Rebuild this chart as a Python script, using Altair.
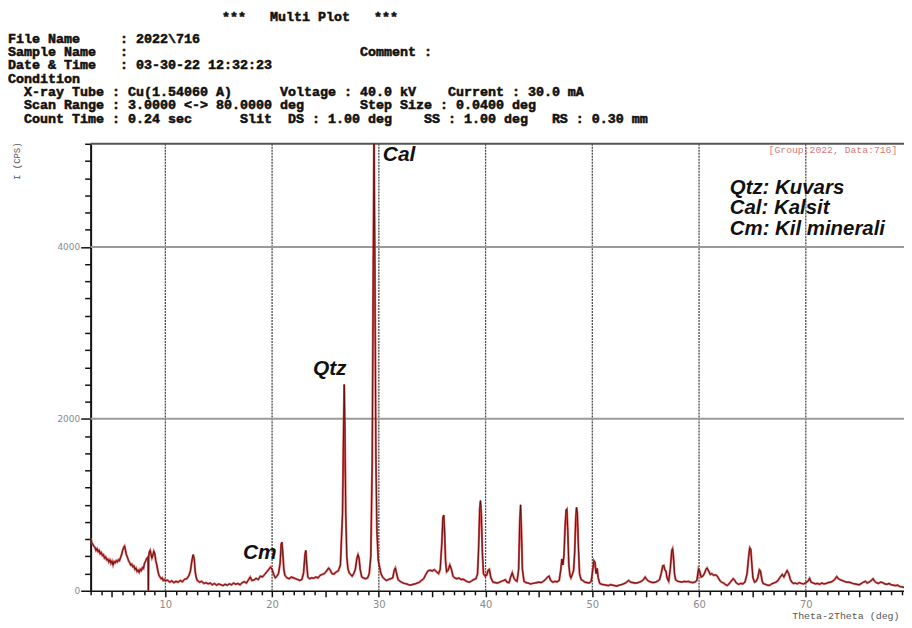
import altair as alt
import pandas as pd

# ---------------- data ----------------
two_theta = [
    3.00, 3.10, 3.20, 3.30, 3.40, 3.50, 3.60, 3.70, 3.80, 3.90,
    4.00, 4.10, 4.20, 4.30, 4.40, 4.50, 4.60, 4.70, 4.80, 4.90,
    5.00, 5.10, 5.20, 5.30, 5.40, 5.50, 5.60, 5.70, 5.80, 5.90,
    6.00, 6.10, 6.18, 6.25, 6.35, 6.45, 6.55, 6.65, 6.75, 6.85,
    6.95, 7.05, 7.15, 7.25, 7.35, 7.45, 7.55, 7.65, 7.75, 7.85,
    7.95, 8.05, 8.15, 8.25, 8.35, 8.38, 8.41, 8.44, 8.50, 8.58,
    8.66, 8.74, 8.82, 8.92, 9.00, 9.10, 9.20, 9.30, 9.40, 9.50,
    9.60, 9.70, 9.80, 9.90, 10.0, 10.2, 10.4, 10.6, 10.8, 11.0,
    11.2, 11.4, 11.6, 11.8, 12.0, 12.2, 12.35, 12.5, 12.6, 12.7,
    12.8, 12.9, 13.0, 13.2, 13.4, 13.6, 13.8, 14.0, 14.2, 14.4,
    14.6, 14.8, 15.0, 15.2, 15.4, 15.6, 15.8, 16.0, 16.2, 16.4,
    16.6, 16.8, 17.0, 17.2, 17.4, 17.6, 17.8, 17.95, 18.1, 18.3,
    18.5, 18.7, 18.9, 19.1, 19.3, 19.5, 19.7, 19.85, 20.0, 20.15,
    20.3, 20.45, 20.6, 20.75, 20.85, 20.92, 21.0, 21.1, 21.2, 21.4,
    21.6, 21.8, 22.0, 22.2, 22.4, 22.6, 22.8, 22.95, 23.08, 23.16,
    23.25, 23.35, 23.5, 23.7, 23.9, 24.1, 24.3, 24.5, 24.7, 24.9,
    25.1, 25.3, 25.45, 25.6, 25.8, 26.0, 26.2, 26.4, 26.6, 26.69,
    26.76, 26.82, 26.9, 27.0, 27.1, 27.22, 27.35, 27.5, 27.65, 27.8,
    27.95, 28.05, 28.15, 28.25, 28.4, 28.55, 28.75, 28.95, 29.1, 29.25,
    29.38, 29.48, 29.55, 29.62, 29.72, 29.82, 29.95, 30.1, 30.2, 30.35,
    30.5, 30.7, 30.9, 31.1, 31.3, 31.45, 31.55, 31.65, 31.8, 32.0,
    32.2, 32.4, 32.6, 32.8, 33.0, 33.2, 33.4, 33.6, 33.8, 34.0,
    34.2, 34.4, 34.6, 34.8, 35.0, 35.2, 35.4, 35.6, 35.75, 35.9,
    36.0, 36.08, 36.16, 36.25, 36.35, 36.5, 36.65, 36.8, 36.95, 37.1,
    37.3, 37.5, 37.7, 37.9, 38.1, 38.3, 38.5, 38.7, 38.9, 39.1,
    39.25, 39.35, 39.45, 39.52, 39.6, 39.7, 39.8, 39.95, 40.1, 40.25,
    40.35, 40.5, 40.7, 40.9, 41.1, 41.3, 41.5, 41.7, 41.85, 42.0,
    42.2, 42.35, 42.5, 42.65, 42.8, 42.95, 43.1, 43.2, 43.28, 43.36,
    43.45, 43.6, 43.8, 44.0, 44.2, 44.4, 44.6, 44.8, 45.0, 45.2,
    45.4, 45.6, 45.8, 45.95, 46.1, 46.3, 46.5, 46.7, 46.9, 47.05,
    47.15, 47.25, 47.35, 47.45, 47.55, 47.62, 47.7, 47.8, 47.9, 48.0,
    48.15, 48.25, 48.35, 48.45, 48.52, 48.6, 48.7, 48.8, 48.95, 49.1,
    49.3, 49.5, 49.7, 49.9, 50.05, 50.15, 50.25, 50.35, 50.45, 50.55,
    50.7, 50.9, 51.1, 51.3, 51.5, 51.7, 51.9, 52.1, 52.3, 52.5,
    52.7, 52.9, 53.1, 53.3, 53.4, 53.6, 53.8, 54.0, 54.2, 54.4,
    54.6, 54.8, 54.95, 55.1, 55.3, 55.5, 55.7, 55.9, 56.1, 56.3,
    56.45, 56.6, 56.7, 56.8, 56.9, 57.0, 57.15, 57.3, 57.45, 57.52,
    57.6, 57.7, 57.8, 58.0, 58.2, 58.4, 58.6, 58.8, 59.0, 59.2,
    59.4, 59.6, 59.8, 59.95, 60.05, 60.2, 60.35, 60.5, 60.65, 60.75,
    60.9, 61.05, 61.2, 61.35, 61.5, 61.65, 61.8, 61.95, 62.1, 62.3,
    62.5, 62.65, 62.8, 63.0, 63.2, 63.35, 63.5, 63.7, 63.9, 64.1,
    64.3, 64.5, 64.65, 64.75, 64.85, 64.95, 65.05, 65.2, 65.35, 65.5,
    65.65, 65.75, 65.9, 66.0, 66.2, 66.4, 66.6, 66.8, 67.0, 67.2,
    67.4, 67.6, 67.8, 67.95, 68.1, 68.25, 68.4, 68.55, 68.7, 68.85,
    69.0, 69.2, 69.4, 69.6, 69.8, 70.0, 70.2, 70.35, 70.5, 70.7,
    70.9, 71.1, 71.3, 71.5, 71.7, 71.9, 72.1, 72.3, 72.5, 72.7,
    72.9, 73.05, 73.2, 73.4, 73.6, 73.8, 74.0, 74.2, 74.4, 74.6,
    74.8, 75.0, 75.2, 75.4, 75.6, 75.75, 75.9, 76.1, 76.3, 76.45,
    76.6, 76.8, 77.0, 77.2, 77.4, 77.6, 77.8, 78.0, 78.2, 78.4,
    78.6, 78.8, 79.0, 79.2,
]

intensity = [
    610, 560, 540, 520, 505, 470, 490, 455, 470, 430,
    445, 410, 420, 380, 395, 360, 370, 335, 360, 320,
    345, 300, 340, 325, 350, 335, 360, 350, 385, 420,
    470, 505, 520, 480, 420, 390, 350, 330, 300, 310,
    280, 290, 250, 265, 225, 240, 215, 250, 235, 270,
    260, 320, 345, 375, 390, 380, 0, 400, 450, 470,
    420, 380, 410, 460, 440, 350, 300, 230, 180, 160,
    140, 150, 120, 130, 115, 125, 100, 115, 95, 110,
    100, 120, 105, 135, 140, 175, 230, 360, 420, 380,
    220, 150, 120, 100, 110, 85, 95, 80, 90, 70,
    85, 65, 80, 70, 60, 75, 65, 80, 70, 90,
    75, 85, 70, 95, 105, 90, 130, 160, 120, 125,
    145, 130, 170, 160, 190, 220, 250, 275, 250, 190,
    150, 170, 200, 320, 540, 565, 450, 250, 180, 150,
    140, 160, 150, 140, 130, 120, 135, 210, 420, 470,
    300, 160, 140, 150, 145, 160, 150, 180, 190, 200,
    230, 265, 240, 200, 195, 220, 230, 300, 900, 1800,
    2400, 1900, 900, 400, 260, 210, 190, 170, 200, 250,
    380, 420, 380, 250, 160, 150, 140, 150, 200, 400,
    1500, 3800, 5300, 4000, 1600, 700, 350, 260, 200, 160,
    140, 120, 130, 140, 150, 240, 265, 210, 130, 110,
    95, 85, 80, 70, 65, 75, 80, 90, 100, 120,
    140, 190, 230, 240, 230, 245, 220, 200, 250, 550,
    850, 880, 700, 350, 220, 240, 300, 250, 170, 150,
    140, 150, 130, 135, 120, 105, 100, 115, 130, 140,
    200, 500, 950, 1050, 900, 450, 200, 170, 180, 240,
    250, 150, 100, 95, 90, 100, 110, 120, 130, 100,
    95, 160, 210, 150, 120, 110, 250, 800, 1000, 700,
    250, 110, 95, 90, 80, 85, 90, 95, 100, 95,
    110, 130, 160, 170, 120, 100, 110, 105, 120, 250,
    370, 300, 420, 750, 940, 950, 700, 300, 180, 150,
    200, 240, 450, 850, 970, 900, 500, 200, 130, 120,
    100, 95, 90, 110, 250, 350, 330, 200, 260, 150,
    85, 75, 70, 65, 60, 70, 65, 60, 55, 65,
    70, 80, 90, 110, 120, 100, 95, 90, 92, 100,
    110, 130, 160, 130, 110, 100, 95, 100, 110, 130,
    200, 290, 295, 240, 230, 150, 110, 250, 470, 490,
    400, 200, 130, 110, 105, 100, 110, 105, 110, 100,
    95, 100, 120, 255, 230, 160, 170, 200, 250, 265,
    230, 190, 200, 180, 185, 178, 150, 120, 100, 90,
    70, 62, 80, 110, 140, 120, 90, 75, 85, 80,
    100, 200, 400, 500, 480, 300, 150, 100, 110, 150,
    245, 230, 120, 85, 75, 65, 62, 80, 90, 100,
    120, 160, 190, 160, 200, 235, 200, 130, 100, 85,
    90, 80, 95, 85, 80, 95, 110, 145, 100, 90,
    80, 85, 75, 90, 80, 85, 95, 100, 110, 130,
    165, 140, 130, 120, 110, 100, 100, 95, 85, 80,
    75, 70, 85, 100, 110, 90, 100, 115, 140, 110,
    95, 85, 100, 95, 80, 75, 85, 70, 65, 60,
    65, 50, 45, 40,
]

x_ticks = list(range(3, 80))
y_ticks = list(range(0, 5201, 200))
grid_x = [10, 20, 30, 40, 50, 60, 70]
grid_y = [2000, 4000]
frame_top = [5200]

peak_names = ["Cal", "Qtz", "Cm"]
peak_pos_x = [31.9, 25.4, 18.85]
peak_pos_y = [5070, 2575, 440]

legend_lines = ["Qtz: Kuvars", "Cal: Kalsit", "Cm: Kil minerali"]
group_label = "[Group:2022, Data:716]"
plot_title = "***   Multi Plot   ***"
header_lines = [
    "File Name     : 2022\\716",
    "Sample Name   :                             Comment :",
    "Date & Time   : 03-30-22 12:32:23",
    "Condition",
    "  X-ray Tube : Cu(1.54060 A)      Voltage : 40.0 kV    Current : 30.0 mA",
    "  Scan Range : 3.0000 <-> 80.0000 deg       Step Size : 0.0400 deg",
    "  Count Time : 0.24 sec      Slit  DS : 1.00 deg    SS : 1.00 deg   RS : 0.30 mm",
]


def keep_spaces(s):
    # non-breaking spaces, and a zero-width lead so leading blanks survive trimming
    return "\u200b" + s.replace(" ", "\u00a0")


# ---------------- chart ----------------
W, H = 817, 449
xscale = alt.Scale(domain=[3, 79.2], nice=False, zero=False)
yscale = alt.Scale(domain=[0, 5200], nice=False, zero=True)

df = pd.DataFrame({"tt": two_theta, "I": intensity})
one = pd.DataFrame({"k": [0]})

x_axis = alt.Axis(
    values=x_ticks,
    tickCount=len(x_ticks) + 10,
    labelExpr="datum.value % 10 === 0 ? datum.label : ''",
    tickSize={"condition": {"test": "datum.value % 5 === 0", "value": 6}, "value": 4},
    tickColor="#111", tickWidth=1.5,
    domainColor="#111", domainWidth=1.5,
    grid=False,
    labelFont="DejaVu Sans", labelFontSize=10, labelColor="#8a8a8a",
    labelPadding=3, labelFlush=False, labelOverlap=False,
    title="Theta-2Theta (deg)",
    titleFont="Liberation Mono", titleFontSize=10, titleFontWeight="normal",
    titleColor="#555", titleAlign="right", titleBaseline="middle",
    titleX=812, titleY=25,
)
y_axis = alt.Axis(
    values=y_ticks,
    tickCount=len(y_ticks) + 10,
    format="d",
    labelExpr="datum.value % 2000 === 0 ? datum.label : ''",
    tickSize={"condition": {"test": "datum.value % 2000 === 0", "value": 10}, "value": 6},
    tickColor="#111", tickWidth=1.5,
    domainColor="#111", domainWidth=2,
    grid=False,
    labelFont="DejaVu Sans", labelFontSize=9, labelColor="#8a8a8a",
    labelPadding=1, labelOverlap=False,
    title="I (CPS)",
    titleFont="Liberation Mono", titleFontSize=9, titleFontWeight="normal",
    titleColor="#555", titleAngle=270, titleAlign="center", titleBaseline="middle",
    titleX=-74, titleY=17,
)

base = alt.Chart(df)

vgrid = alt.Chart(pd.DataFrame({"g": grid_x})).mark_rule(
    color="#4a4a4a", strokeWidth=1.3, strokeDash=[2, 1]
).encode(x=alt.X("g:Q", scale=xscale, axis=x_axis))

hgrid = alt.Chart(pd.DataFrame({"h": grid_y})).mark_rule(
    color="#9a9a9a", strokeWidth=2
).encode(y=alt.Y("h:Q", scale=yscale, axis=y_axis))

top_line = alt.Chart(pd.DataFrame({"t": frame_top})).mark_rule(
    color="#555555", strokeWidth=2
).encode(y=alt.Y("t:Q", scale=yscale, axis=y_axis))

line_red = base.mark_line(color="#d23a3a", strokeWidth=2.2, opacity=0.85, clip=True).encode(
    x=alt.X("tt:Q", scale=xscale, axis=x_axis),
    y=alt.Y("I:Q", scale=yscale, axis=y_axis),
)
line_dark = base.mark_line(color="#5a0a0a", strokeWidth=0.9, clip=True).encode(
    x=alt.X("tt:Q", scale=xscale, axis=x_axis),
    y=alt.Y("I:Q", scale=yscale, axis=y_axis),
)

peaks = alt.Chart(pd.DataFrame({"n": peak_names, "px": peak_pos_x, "py": peak_pos_y})).mark_text(
    font="Liberation Sans", fontSize=21, fontWeight="bold", fontStyle="italic",
    color="#111", align="center", baseline="middle"
).encode(
    x=alt.X("px:Q", scale=xscale, axis=x_axis),
    y=alt.Y("py:Q", scale=yscale, axis=y_axis),
    text="n:N",
)

legend_txt = alt.Chart(one).mark_text(
    font="Liberation Sans", fontSize=20.5, fontWeight="bold", fontStyle="italic",
    color="#111", align="left", baseline="middle", lineHeight=21
).encode(x=alt.value(642), y=alt.value(44), text=alt.value(legend_lines))

group_txt = alt.Chart(one).mark_text(
    font="Liberation Mono", fontSize=9.8, color="#d27a7a", align="left", baseline="middle"
).encode(x=alt.value(681), y=alt.value(6), text=alt.value(group_label))

title_txt = alt.Chart(one).mark_text(
    font="Liberation Mono", fontSize=13.4, fontWeight="bold", color="#111",
    stroke="#111", strokeWidth=0.55,
    align="left", baseline="alphabetic"
).encode(x=alt.value(132), y=alt.value(-123), text=alt.value(keep_spaces(plot_title)))

header_txt = alt.Chart(one).mark_text(
    font="Liberation Mono", fontSize=13.4, fontWeight="bold", color="#111",
    stroke="#111", strokeWidth=0.55,
    align="left", baseline="alphabetic", lineHeight=13.4
).encode(x=alt.value(-83), y=alt.value(-101.5),
         text=alt.value([keep_spaces(s) for s in header_lines]))

chart = alt.layer(
    vgrid, hgrid, top_line, line_red, line_dark, peaks,
    legend_txt, group_txt, title_txt, header_txt
).properties(
    width=W, height=H,
    autosize=alt.AutoSizeParams(type="none"),
    padding={"left": 83, "top": 135, "right": 0, "bottom": 34},
    background="white",
).configure_view(stroke=None)

chart.save("out.html", embed_options={"renderer": "svg", "actions": False})
